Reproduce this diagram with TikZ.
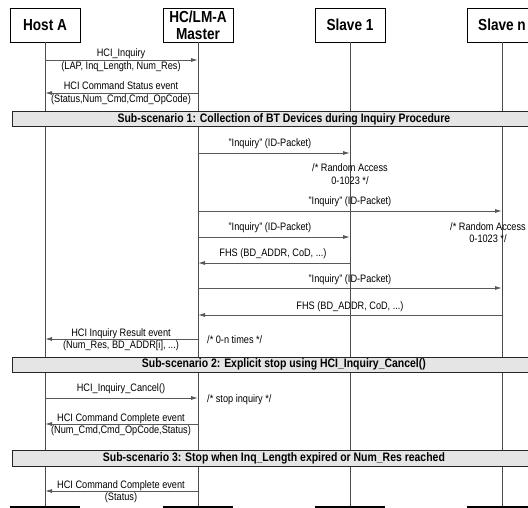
\documentclass[tikz,border=0pt]{standalone}
\usepackage{fontspec}
\setmainfont{Liberation Sans}[FakeStretch=0.85]
\usetikzlibrary{arrows.meta}
\begin{document}
\begin{tikzpicture}[x=1pt,y=-1pt,
 head/.style={draw=black, line width=0.8pt, fill=white, minimum width=70pt, minimum height=34pt, inner sep=0pt, font=\fontsize{16}{17}\selectfont\bfseries, align=center},
 life/.style={draw=black!70, line width=0.9pt},
 msg/.style={draw=black!65, line width=0.9pt, -{Latex[length=7pt,width=4pt]}},
 lbl/.style={anchor=base, inner sep=0pt, font=\fontsize{10.8}{12}\selectfont},
 lblw/.style={anchor=base west, inner sep=0pt, font=\fontsize{10.8}{12}\selectfont},
 bar/.style={draw=black!85, fill=black!10, line width=0.8pt, anchor=north west, minimum width=543pt, minimum height=15.5pt, inner sep=0pt},
 bartxt/.style={inner sep=0pt, font=\fontsize{12.3}{14}\selectfont\bfseries},
 endbar/.style={draw=black, line width=1.5pt}]
\useasboundingbox (0,0) rectangle (528,508);
\clip (0,0) rectangle (528,508);
% headers
\node[head] (ha) at (45,25) {Host A};
\node[head] (hc) at (198,25) {HC/LM-A\\Master};
\node[head] (s1) at (350,25) {Slave 1};
\node[head] (sn) at (502,25) {Slave n};
% lifeline ends
\coordinate (haE) at (45,507);
\coordinate (hcE) at (198,507);
\coordinate (s1E) at (350,507);
\coordinate (snE) at (502,507);
\draw[life] (ha.south) -- (haE);
\draw[life] (hc.south) -- (hcE);
\draw[life] (s1.south) -- (s1E);
\draw[life] (sn.south) -- (snE);
\draw[endbar] ([xshift=-35pt]haE) -- ([xshift=35pt]haE);
\draw[endbar] ([xshift=-35pt]hcE) -- ([xshift=35pt]hcE);
\draw[endbar] ([xshift=-35pt]s1E) -- ([xshift=35pt]s1E);
\draw[endbar] ([xshift=-35pt]snE) -- ([xshift=35pt]snE);
% bars
\node[bar] (b1) at (12,111) {};
\node[bartxt] (t1) at ([xshift=0pt]b1.center) {Sub-scenario 1: Collection of BT Devices during Inquiry Procedure};
\node[bar] (b2) at (12,356.5) {};
\node[bartxt] (t2) at ([xshift=0pt]b2.center) {Sub-scenario 2: Explicit stop using HCI\_Inquiry\_Cancel()};
\node[bar] (b3) at (12,450) {};
\node[bartxt] (t3) at ([xshift=-10pt]b3.center) {Sub-scenario 3: Stop when Inq\_Length expired or Num\_Res reached};
% messages
\draw[msg] (ha |- 0,60) -- (hc |- 0,60);
\node[lbl] (l1a) at (121,57) {HCI\_Inquiry};
\node[lbl] (l1b) at (121,69.5) {(LAP, Inq\_Length, Num\_Res)};
\draw[msg] (hc |- 0,93) -- (ha |- 0,93);
\node[lbl] (l2a) at (121,90) {HCI Command Status event};
\node[lbl] (l2b) at (121,102.5) {(Status,Num\_Cmd,Cmd\_OpCode)};
\draw[msg] (hc |- 0,153) -- (s1 |- 0,153);
\node[lbl] (l3) at (270,147) {"Inquiry" (ID-Packet)};
\node[lbl] (c1a) at (350,172) {/* Random Access};
\node[lbl] (c1b) at (350,185) {0-1023 */};
\draw[msg] (hc |- 0,211) -- (sn |- 0,211);
\node[lbl] (l4) at (350,205) {"Inquiry" (ID-Packet)};
\draw[msg] (hc |- 0,237) -- (s1 |- 0,237);
\node[lbl] (l5) at (270,231) {"Inquiry" (ID-Packet)};
\node[lbl] (c2a) at (488,230) {/* Random Access};
\node[lbl] (c2b) at (488,243) {0-1023 */};
\draw[msg] (s1 |- 0,263) -- (hc |- 0,263);
\node[lbl] (l6) at (273,257) {FHS (BD\_ADDR, CoD, ...)};
\draw[msg] (hc |- 0,288) -- (sn |- 0,288);
\node[lbl] (l7) at (350,282) {"Inquiry" (ID-Packet)};
\draw[msg] (sn |- 0,315) -- (hc |- 0,315);
\node[lbl] (l8) at (350,309) {FHS (BD\_ADDR, CoD, ...)};
\node[lblw] (c3) at (207,343) {/* 0-n times */};
\draw[msg] (hc |- 0,339) -- (ha |- 0,339);
\node[lbl] (l9a) at (121,336) {HCI Inquiry Result event};
\node[lbl] (l9b) at (121,348.5) {(Num\_Res, BD\_ADDR[i], ...)};
\draw[msg] (ha |- 0,398) -- (hc |- 0,398);
\node[lbl] (l10) at (121,391) {HCI\_Inquiry\_Cancel()};
\node[lblw] (c4) at (207,402) {/* stop inquiry */};
\draw[msg] (hc |- 0,424) -- (ha |- 0,424);
\node[lbl] (l11a) at (121,421) {HCI Command Complete event};
\node[lbl] (l11b) at (121,433.5) {(Num\_Cmd,Cmd\_OpCode,Status)};
\draw[msg] (hc |- 0,491) -- (ha |- 0,491);
\node[lbl] (l12a) at (121,488) {HCI Command Complete event};
\node[lbl] (l12b) at (121,500.5) {(Status)};
\end{tikzpicture}
\end{document}
